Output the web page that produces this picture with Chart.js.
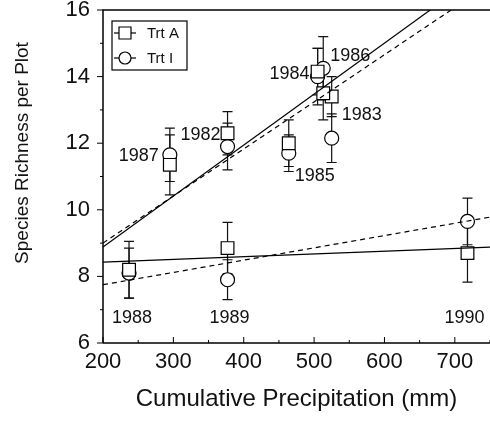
<!DOCTYPE html>
<html>
<head>
<meta charset="utf-8">
<script src="https://cdn.jsdelivr.net/npm/chart.js@4.4.1/dist/chart.umd.min.js"></script>
<style>
  body { margin: 0; background: #fff; }
  #chart { display: block; }
</style>
</head>
<body>
<canvas id="chart" width="490" height="422"></canvas>
<script>
// Data
const years = ['1982', '1983', '1984', '1985', '1986', '1987', '1988', '1989', '1990'];
const precip = [377, 525, 505, 464, 513, 295, 237, 377, 718];
const trtA = [12.3, 13.4, 14.15, 12.0, 13.5, 11.35, 8.2, 8.85, 8.7];
const trtAErr = [0.65, 0.6, 0.7, 0.7, 0.8, 0.9, 0.85, 0.77, 0.87];
const trtI = [11.9, 12.15, 14.0, 11.7, 14.25, 11.65, 8.1, 7.9, 9.65];
const trtIErr = [0.7, 0.73, 0.85, 0.55, 0.95, 0.8, 0.75, 0.6, 0.7];

// fitted lines (end points)
const fitAWetX = [200, 665];
const fitAWetY = [8.88, 16];
const fitIWetX = [200, 695];
const fitIWetY = [9.0, 16];
const fitADryX = [200, 750];
const fitADryY = [8.43, 8.88];
const fitIDryX = [200, 750];
const fitIDryY = [7.75, 9.78];

const xTicks = [200, 300, 400, 500, 600, 700];
const yTicks = [6, 8, 10, 12, 14, 16];

const FONT = '"Liberation Sans", Arial, sans-serif';

// how each year label is placed next to its points: [align, dx, anchor, dy]
const labelPlace = {
    '1982': ['right', -7, 'hi', 2],
    '1983': ['left', 10, 'hi', 18],
    '1984': ['right', -8, 'hi', 2],
    '1985': ['left', 6, 'lo', 23],
    '1986': ['left', 7, 'hi', -12],
    '1987': ['right', -11, 'hi', 1],
    '1988': ['center', 3, 'base', 8],
    '1989': ['center', 2, 'base', 8],
    '1990': ['center', -3, 'base', 8]
};

function pts(xs, ys) {
    return xs.map((x, i) => ({ x: x, y: ys[i] }));
}

// error bars, frame, ticks, year labels, legend
const extras = {
    id: 'extras',
    beforeDatasetsDraw(chart) {
        const ctx = chart.ctx;
        const xs = chart.scales.x, ys = chart.scales.y;
        ctx.save();
        ctx.strokeStyle = '#111';
        ctx.lineWidth = 1.2;
        [[trtA, trtAErr], [trtI, trtIErr]].forEach(([vals, errs]) => {
            vals.forEach((v, i) => {
                const px = xs.getPixelForValue(precip[i]);
                const top = ys.getPixelForValue(v + errs[i]);
                const bot = ys.getPixelForValue(v - errs[i]);
                ctx.beginPath();
                ctx.moveTo(px, top); ctx.lineTo(px, bot);
                ctx.moveTo(px - 5, top); ctx.lineTo(px + 5, top);
                ctx.moveTo(px - 5, bot); ctx.lineTo(px + 5, bot);
                ctx.stroke();
            });
        });
        ctx.restore();
    },
    afterDraw(chart) {
        const ctx = chart.ctx;
        const a = chart.chartArea;
        const xs = chart.scales.x, ys = chart.scales.y;
        ctx.save();
        ctx.strokeStyle = '#000';
        ctx.lineWidth = 1.5;
        // frame
        ctx.beginPath();
        ctx.moveTo(a.left, a.bottom); ctx.lineTo(a.left, a.top); ctx.lineTo(a.right, a.top);
        ctx.moveTo(a.left, a.bottom); ctx.lineTo(a.right, a.bottom);
        ctx.stroke();
        // x ticks point inward
        ctx.lineWidth = 1;
        ctx.beginPath();
        for (let v = 200; v <= 750; v += 50) {
            const px = xs.getPixelForValue(v);
            const len = v % 100 === 0 ? 6 : 3;
            ctx.moveTo(px, a.bottom); ctx.lineTo(px, a.bottom - len);
        }
        // y ticks point outward
        for (let v = 6; v <= 16; v += 1) {
            const py = ys.getPixelForValue(v);
            const len = v % 2 === 0 ? 6 : 3;
            ctx.moveTo(a.left, py); ctx.lineTo(a.left - len, py);
        }
        ctx.stroke();

        // y axis title (sits a bit above centre in the original)
        ctx.fillStyle = '#111';
        ctx.save();
        ctx.translate(23, 153);
        ctx.rotate(-Math.PI / 2);
        ctx.font = '19px ' + FONT;
        ctx.textAlign = 'center'; ctx.textBaseline = 'middle';
        ctx.fillText('Species Richness per Plot', 0, 0);
        ctx.restore();

        // year labels
        ctx.font = '18px ' + FONT;
        ctx.textBaseline = 'middle';
        years.forEach((yr, i) => {
            const [align, dx, anchor, dy] = labelPlace[yr];
            const px = xs.getPixelForValue(precip[i]);
            let v = 7;
            if (anchor === 'hi') v = Math.max(trtA[i], trtI[i]);
            if (anchor === 'lo') v = Math.min(trtA[i], trtI[i]);
            ctx.textAlign = align;
            ctx.fillText(yr, px + dx, ys.getPixelForValue(v) + dy);
        });

        // legend box
        const lx = a.left + 9, ly = a.top + 11, lw = 75, lh = 49;
        ctx.lineWidth = 1.2;
        ctx.strokeRect(lx, ly, lw, lh);
        ctx.font = '15px ' + FONT;
        ctx.textAlign = 'left'; ctx.textBaseline = 'middle';
        [['Trt A', 'rect'], ['Trt I', 'circle']].forEach(([txt, shape], k) => {
            const cy = ly + 12 + k * 25;
            const cx = lx + 13;
            ctx.beginPath();
            ctx.moveTo(cx - 11, cy); ctx.lineTo(cx + 11, cy);
            ctx.stroke();
            ctx.fillStyle = '#fff';
            ctx.beginPath();
            if (shape === 'rect') ctx.rect(cx - 6, cy - 6, 12, 12);
            else ctx.arc(cx, cy, 6, 0, Math.PI * 2);
            ctx.fill(); ctx.stroke();
            ctx.fillStyle = '#111';
            ctx.fillText(txt, cx + 22, cy + 1);
        });
        ctx.restore();
    }
};

const ctx = document.getElementById('chart').getContext('2d');
new Chart(ctx, {
    type: 'scatter',
    data: {
        datasets: [
            { label: 'fit A wet', data: pts(fitAWetX, fitAWetY), showLine: true, borderColor: '#000', borderWidth: 1.2, pointRadius: 0 },
            { label: 'fit I wet', data: pts(fitIWetX, fitIWetY), showLine: true, borderColor: '#000', borderWidth: 1.2, borderDash: [5, 4], pointRadius: 0 },
            { label: 'fit A dry', data: pts(fitADryX, fitADryY), showLine: true, borderColor: '#000', borderWidth: 1.2, pointRadius: 0 },
            { label: 'fit I dry', data: pts(fitIDryX, fitIDryY), showLine: true, borderColor: '#000', borderWidth: 1.2, borderDash: [5, 4], pointRadius: 0 },
            { label: 'Trt A', data: pts(precip, trtA), pointStyle: 'rect', pointRadius: 9, backgroundColor: '#fff', borderColor: '#000', borderWidth: 1.2 },
            { label: 'Trt I', data: pts(precip, trtI), pointStyle: 'circle', pointRadius: 7, backgroundColor: '#fff', borderColor: '#000', borderWidth: 1.2 }
        ]
    },
    options: {
        responsive: false,
        animation: false,
        layout: { autoPadding: false, padding: { top: 10, right: 0, left: 0, bottom: 0 } },
        plugins: {
            legend: { display: false },
            tooltip: { enabled: false }
        },
        scales: {
            x: {
                type: 'linear',
                min: 200,
                max: 750,
                afterBuildTicks: (s) => { s.ticks = xTicks.map(v => ({ value: v })); },
                afterFit: (s) => { s.height = 79; s.paddingLeft = 0; s.paddingRight = 0; },
                grid: { display: false, drawTicks: false },
                border: { display: false },
                ticks: { color: '#111', font: { family: FONT, size: 22 }, padding: 6, maxRotation: 0 },
                title: { display: true, text: 'Cumulative Precipitation (mm)', color: '#111', font: { family: FONT, size: 24 }, padding: { top: 4, bottom: 8 } }
            },
            y: {
                min: 6,
                max: 16,
                afterBuildTicks: (s) => { s.ticks = yTicks.map(v => ({ value: v })); },
                afterFit: (s) => { s.width = 103; s.paddingTop = 0; s.paddingBottom = 0; },
                grid: { display: false, drawTicks: false },
                border: { display: false },
                ticks: { color: '#111', font: { family: FONT, size: 22 }, padding: 13 },
                title: { display: false }
            }
        }
    },
    plugins: [extras]
});
</script>
</body>
</html>
